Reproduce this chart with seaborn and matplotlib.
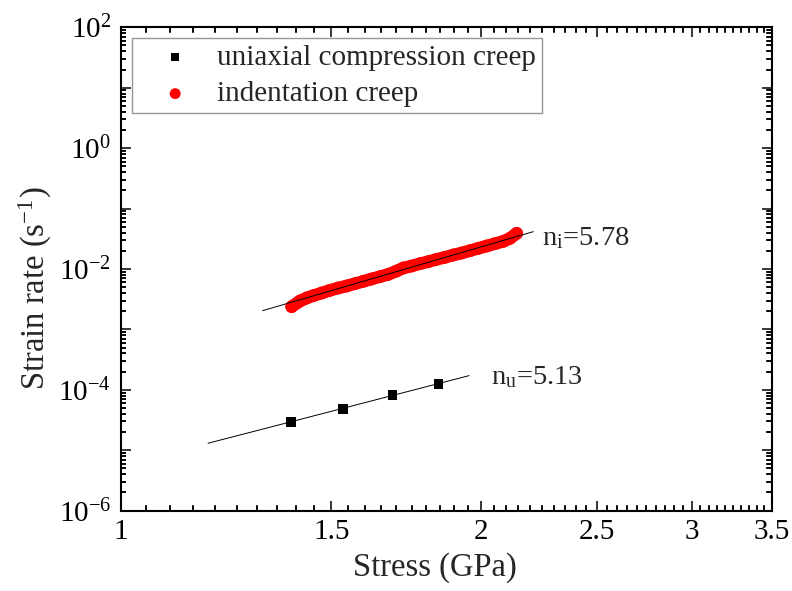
import numpy as np
import matplotlib
matplotlib.use("Agg")
import matplotlib.pyplot as plt
import seaborn as sns
from matplotlib.ticker import FixedLocator, FuncFormatter, NullFormatter

# ---------------- data ----------------
uni_stress = [1.387, 1.535, 1.687, 1.843]            # GPa
uni_rate = [2.97e-5, 4.82e-5, 8.31e-5, 1.264e-4]     # 1/s

ind_stress = [1.3896, 1.4121, 1.4303, 1.4487, 1.4722, 1.4960, 1.5201, 1.5447,
              1.5697, 1.5950, 1.6208, 1.6470, 1.6737, 1.7007, 1.7227, 1.7505,
              1.7788, 1.8076, 1.8368, 1.8665, 1.8967, 1.9274, 1.9585, 1.9902,
              2.0224, 2.0551, 2.0883, 2.1153, 2.1426]
ind_rate = [2.380e-3, 2.954e-3, 3.312e-3, 3.620e-3, 4.007e-3, 4.436e-3, 4.848e-3,
            5.233e-3, 5.718e-3, 6.250e-3, 6.833e-3, 7.466e-3, 8.161e-3, 9.266e-3,
            1.039e-2, 1.121e-2, 1.225e-2, 1.322e-2, 1.445e-2, 1.560e-2, 1.705e-2,
            1.840e-2, 2.010e-2, 2.198e-2, 2.402e-2, 2.625e-2, 2.870e-2, 3.219e-2,
            3.893e-2]

n_uni = 5.13
n_ind = 5.78
uni_fit_range = [1.183, 1.955]
ind_fit_range = [1.314, 2.212]

series_labels = ["uniaxial compression creep", "indentation creep"]
x_ticks = [1, 1.5, 2, 2.5, 3, 3.5]
y_decades = list(range(-6, 3))
x_label = "Stress (GPa)"
y_label = "Strain rate (s$^{\\mathregular{-1}}$)"


def power_fit(stress, rate, n, rng):
    """Power law with fixed exponent n, intercept from the data."""
    s = np.asarray(stress)
    r = np.asarray(rate)
    b = np.mean(np.log10(r) - n * np.log10(s))
    xs = np.asarray(rng)
    return xs, 10 ** b * xs ** n


# ---------------- style ----------------
sns.set_style("ticks")
plt.rcParams["font.family"] = ["Liberation Serif", "DejaVu Serif"]
plt.rcParams["mathtext.fontset"] = "custom"
plt.rcParams["mathtext.rm"] = "Liberation Serif"
plt.rcParams["mathtext.default"] = "regular"

FS = 21
FS_LAB = 23.5
MAJ_LEN = 7.5   # points
MIN_LEN = 3.8   # points
TICK_W = 1.1

fig, ax = plt.subplots(figsize=(7.92, 5.91), dpi=100)
fig.subplots_adjust(left=0.1524, right=0.9744, bottom=0.1359, top=0.9538)
ax.set_xscale("log")
ax.set_yscale("log")

sns.scatterplot(x=uni_stress, y=uni_rate, ax=ax, color="black", marker="s",
                s=50, edgecolor="none", label=series_labels[0], zorder=3)
sns.scatterplot(x=ind_stress, y=ind_rate, ax=ax, color="red", marker="o",
                s=85, edgecolor="none", label=series_labels[1], zorder=2)
# continuous band joining the dense indentation points
sns.lineplot(x=ind_stress, y=ind_rate, ax=ax, color="red", lw=9.0,
             legend=False, zorder=2, sort=False, solid_capstyle="round")

ux, uy = power_fit(uni_stress, uni_rate, n_uni, uni_fit_range)
ix, iy = power_fit(ind_stress, ind_rate, n_ind, ind_fit_range)
sns.lineplot(x=ux, y=uy, ax=ax, color="black", lw=0.7, legend=False, zorder=4)
sns.lineplot(x=ix, y=iy, ax=ax, color="black", lw=0.7, legend=False, zorder=4)

ax.annotate("n$_{\\mathregular{i}}$=5.78", xy=(ix[-1], iy[-1]), xytext=(9, -13),
            textcoords="offset pixels", ha="left", va="baseline", fontsize=FS - 0.5)
ax.annotate("n$_{\\mathregular{u}}$=5.13", xy=(ux[-1], uy[-1]), xytext=(22, -8),
            textcoords="offset pixels", ha="left", va="baseline", fontsize=FS - 0.5)

ax.set_xlabel(x_label, fontsize=FS_LAB)
ax.set_ylabel(y_label, fontsize=FS_LAB)
ax.xaxis.set_label_coords(0.482, -0.085)
ax.yaxis.set_label_coords(-0.103, 0.46)

leg = ax.legend(loc="upper left", bbox_to_anchor=(0.0174, 0.977), borderaxespad=0,
                frameon=True, fancybox=False, edgecolor="#7f7f7f", fontsize=FS,
                handlelength=2.56, handletextpad=0.17, borderpad=0.2,
                labelspacing=0.35, markerscale=0.85)
leg.get_frame().set_linewidth(1.0)

# ---------------- ticks ----------------
x_minor = [v for v in np.round(np.arange(1.0, 3.5001, 0.05), 2)
           if not np.any(np.isclose(v, x_ticks))]
y_major = [10.0 ** e for e in y_decades]
y_minor = [m * 10.0 ** e for e in y_decades[:-1] for m in range(2, 10)]


def yfmt(v, p):
    e = int(round(np.log10(v)))
    return "$\\mathregular{10^{%d}}$" % e if e % 2 == 0 else ""


ax.xaxis.set_major_locator(FixedLocator(x_ticks))
ax.xaxis.set_major_formatter(FuncFormatter(lambda v, p: f"{v:g}"))
ax.xaxis.set_minor_locator(FixedLocator(x_minor))
ax.xaxis.set_minor_formatter(NullFormatter())
ax.yaxis.set_major_locator(FixedLocator(y_major))
ax.yaxis.set_major_formatter(FuncFormatter(yfmt))
ax.yaxis.set_minor_locator(FixedLocator(y_minor))
ax.yaxis.set_minor_formatter(NullFormatter())

ax.tick_params(which="both", direction="in", top=True, right=True, width=TICK_W,
               colors="black", labelsize=FS)
ax.tick_params(which="major", length=MAJ_LEN)
ax.tick_params(which="minor", length=MIN_LEN)
ax.tick_params(axis="x", which="major", pad=6)
ax.tick_params(axis="y", which="major", pad=7)
for sp in ax.spines.values():
    sp.set_linewidth(1.5)
    sp.set_color("black")

# short inward tick marks, also drawn explicitly on all four sides
ax_w_px = fig.get_figwidth() * fig.dpi * (0.9744 - 0.1524)
ax_h_px = fig.get_figheight() * fig.dpi * (0.9538 - 0.1359)
min_px = MIN_LEN * fig.dpi / 72.0
lx = min_px / ax_w_px
ly = min_px / ax_h_px
xt = ax.get_xaxis_transform()
yt = ax.get_yaxis_transform()
for v in x_minor:
    for y0, y1 in ((0.0, ly), (1.0 - ly, 1.0)):
        ax.plot([v, v], [y0, y1], transform=xt, color="black", lw=TICK_W,
                solid_capstyle="butt", clip_on=False, zorder=5)
for v in y_minor:
    for x0, x1 in ((0.0, lx), (1.0 - lx, 1.0)):
        ax.plot([x0, x1], [v, v], transform=yt, color="black", lw=TICK_W,
                solid_capstyle="butt", clip_on=False, zorder=5)

ax.set_xlim(1, 3.5)
ax.set_ylim(1e-6, 1e2)

fig.savefig("out.png", dpi=100)
